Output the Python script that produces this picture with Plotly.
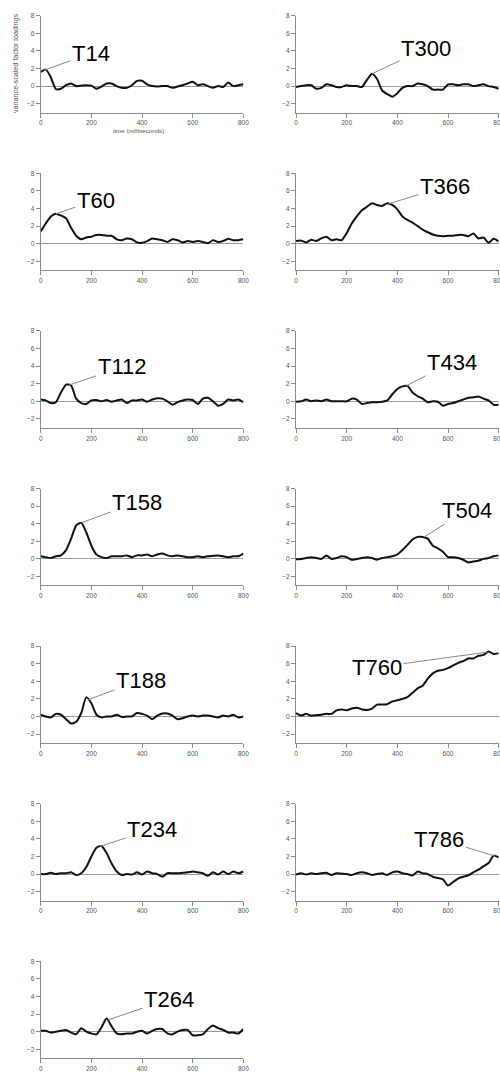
import numpy as np
import plotly.graph_objects as go

# ---------------- data ----------------
time_ms = list(range(0, 801, 20))

T14 = [1.6, 1.9, 1.0, -0.35, -0.3, 0.1, 0.3, 0.0, 0.05, 0.1, 0.05, -0.3, -0.05, 0.3, 0.3, 0.0,
       -0.2, -0.2, 0.1, 0.6, 0.6, 0.2, 0.0, -0.05, 0.0, 0.0, -0.2, -0.05, 0.1, 0.3, 0.5, 0.1,
       0.2, 0.0, -0.2, 0.0, -0.1, 0.4, 0.0, 0.1, 0.2]
T60 = [1.4, 2.3, 3.1, 3.4, 3.2, 2.9, 1.8, 0.9, 0.5, 0.7, 0.8, 1.0, 1.0, 0.9, 0.9, 0.5,
       0.4, 0.6, 0.5, 0.15, 0.1, 0.3, 0.6, 0.5, 0.4, 0.2, 0.5, 0.4, 0.15, 0.3, 0.2, 0.3,
       0.2, 0.05, 0.4, 0.2, 0.3, 0.55, 0.4, 0.4, 0.5]
T112 = [0.2, 0.1, -0.2, -0.1, 1.0, 1.9, 1.8, 0.3, -0.2, -0.3, 0.1, 0.15, 0.0, 0.15, -0.05, 0.1,
        0.2, -0.2, 0.1, 0.1, 0.2, -0.05, 0.2, 0.35, 0.3, 0.0, -0.4, -0.1, 0.1, 0.2, 0.15, -0.3,
        0.3, 0.4, 0.0, -0.5, -0.3, 0.2, 0.1, 0.2, -0.1]
T158 = [0.3, 0.2, 0.1, 0.3, 0.4, 1.0, 2.3, 3.8, 4.1, 3.0, 1.5, 0.5, 0.2, 0.1, 0.3, 0.3,
        0.3, 0.4, 0.2, 0.4, 0.4, 0.5, 0.3, 0.5, 0.6, 0.4, 0.3, 0.4, 0.3, 0.2, 0.2, 0.3,
        0.2, 0.3, 0.35, 0.4, 0.3, 0.2, 0.3, 0.3, 0.6]
T188 = [0.2, 0.0, -0.1, 0.3, 0.2, -0.3, -0.8, -0.6, 0.4, 2.2, 1.5, 0.2, -0.1, 0.0, 0.0, 0.2,
        -0.05, 0.0, 0.0, 0.4, 0.3, 0.1, -0.3, 0.1, 0.35, 0.35, 0.1, -0.3, -0.2, 0.0, 0.1, 0.0,
        0.1, 0.1, 0.0, -0.1, 0.1, 0.0, 0.2, -0.1, 0.0]
T234 = [0.0, 0.0, 0.15, 0.0, 0.1, 0.1, 0.2, -0.1, 0.1, 0.8, 2.0, 3.0, 3.2, 2.4, 1.2, 0.3,
        -0.1, 0.0, -0.05, 0.2, -0.05, 0.3, 0.1, 0.0, -0.3, 0.1, 0.1, 0.1, 0.15, 0.2, 0.3, 0.2,
        0.1, -0.2, 0.2, -0.05, 0.3, 0.0, 0.3, 0.1, 0.3]
T264 = [0.1, 0.1, -0.1, 0.0, 0.1, 0.2, -0.1, -0.3, 0.4, 0.0, -0.2, -0.3, 0.5, 1.5, 0.6, -0.2,
        -0.3, -0.2, -0.2, 0.0, 0.1, -0.2, 0.1, 0.3, 0.3, -0.2, -0.3, 0.0, 0.2, 0.2, -0.4, -0.4,
        -0.3, 0.3, 0.7, 0.4, 0.2, -0.1, -0.1, -0.2, 0.3]
T300 = [-0.1, 0.0, 0.1, 0.1, -0.3, -0.2, 0.2, 0.1, -0.1, -0.1, 0.1, 0.0, 0.0, -0.1, 0.7, 1.4,
        0.8, -0.5, -0.9, -1.2, -0.8, -0.2, 0.0, 0.0, 0.3, 0.2, 0.0, -0.4, -0.4, -0.4, 0.2, 0.2,
        0.1, 0.2, 0.2, 0.0, 0.1, 0.2, 0.0, -0.1, -0.3]
T366 = [0.3, 0.35, 0.15, 0.45, 0.3, 0.6, 0.8, 0.4, 0.5, 0.4, 1.2, 2.3, 3.1, 3.8, 4.2, 4.6,
        4.4, 4.3, 4.6, 4.4, 3.9, 3.1, 2.7, 2.4, 2.0, 1.6, 1.3, 1.05, 0.9, 0.85, 0.9, 0.9,
        1.0, 1.0, 0.85, 1.15, 0.6, 0.7, 0.1, 0.55, 0.25]
T434 = [-0.05, 0.0, 0.2, 0.0, 0.1, 0.0, 0.2, 0.0, 0.0, 0.0, 0.0, 0.3, 0.2, -0.3, -0.2, -0.1,
        -0.1, -0.05, 0.1, 0.8, 1.4, 1.7, 1.75, 1.0, 0.6, 0.3, -0.1, 0.0, -0.05, -0.5, -0.3, -0.2,
        0.0, 0.2, 0.4, 0.45, 0.55, 0.3, 0.1, -0.4, -0.4]
T504 = [-0.05, 0.0, 0.1, 0.2, 0.1, 0.0, 0.4, 0.0, 0.1, 0.3, 0.2, -0.1, 0.0, 0.1, 0.2, 0.1,
        -0.1, 0.1, 0.2, 0.3, 0.5, 1.0, 1.6, 2.2, 2.5, 2.5, 2.3, 1.5, 1.2, 0.8, 0.2, 0.2,
        0.1, -0.1, -0.4, -0.3, -0.2, 0.0, 0.1, 0.3, 0.4]
T760 = [0.4, 0.1, 0.3, 0.1, 0.15, 0.2, 0.3, 0.3, 0.7, 0.8, 0.7, 0.9, 1.0, 0.8, 0.75, 0.9,
        1.35, 1.35, 1.4, 1.7, 1.85, 2.0, 2.2, 2.7, 3.2, 3.5, 4.3, 4.9, 5.2, 5.3, 5.5, 5.8,
        6.1, 6.3, 6.6, 6.6, 6.9, 7.0, 7.4, 7.1, 7.2]
T786 = [-0.05, 0.1, -0.05, 0.1, 0.0, 0.1, 0.15, -0.1, 0.1, 0.05, 0.0, -0.1, 0.1, 0.2, 0.1, -0.1,
        0.0, 0.1, -0.1, 0.2, 0.3, 0.1, 0.0, -0.15, 0.3, 0.1, 0.0, -0.3, -0.45, -0.6, -1.3, -0.9,
        -0.5, -0.3, -0.15, 0.2, 0.5, 0.9, 1.25, 2.1, 1.9]

left_names = ["T14", "T60", "T112", "T158", "T188", "T234", "T264"]
right_names = ["T300", "T366", "T434", "T504", "T760", "T786"]
series = {"T14": T14, "T60": T60, "T112": T112, "T158": T158, "T188": T188,
          "T234": T234, "T264": T264, "T300": T300, "T366": T366, "T434": T434,
          "T504": T504, "T760": T760, "T786": T786}
# time (ms) each label points at
label_tip_ms = {"T14": 14, "T60": 60, "T112": 112, "T158": 158, "T188": 188, "T234": 234,
                "T264": 264, "T300": 300, "T366": 366, "T434": 434, "T504": 504,
                "T760": 756, "T786": 786}
# label text centre in data units (ms, loading)
label_text_x = {"T14": 199, "T60": 218, "T112": 321, "T158": 380, "T188": 396, "T234": 440,
                "T264": 507, "T300": 514, "T366": 589, "T434": 616, "T504": 676,
                "T760": 320, "T786": 565}
label_text_y = {"T14": 3.75, "T60": 4.95, "T112": 3.9, "T158": 6.45, "T188": 4.14, "T234": 5.1,
                "T264": 3.7, "T300": 4.3, "T366": 6.5, "T434": 4.45, "T504": 5.55,
                "T760": 5.6, "T786": 3.98}

x_ticks = [0, 200, 400, 600, 800]
y_ticks = [-2, 0, 2, 4, 6, 8]

# ---------------- layout geometry (pixels) ----------------
W, H = 500, 1077
col_x = [(40.7, 243.4), (296.0, 498.7)]
row_top0, row_step, panel_h = 15.7, 157.6, 96.8

fig = go.Figure()
font_family = "Liberation Sans, Arial, sans-serif"
axis_col = "#8a8a8a"
tick_font = dict(family=font_family, size=6.5, color="#555555")

panels = [(n, 0, r) for r, n in enumerate(left_names)] + [(n, 1, r) for r, n in enumerate(right_names)]
annotations = []
layout_axes = {}
for i, (name, col, row) in enumerate(panels):
    k = "" if i == 0 else str(i + 1)
    xa, ya = "x" + k, "y" + k
    top = row_top0 + row_step * row
    bot = top + panel_h
    x0, x1 = col_x[col]
    layout_axes["xaxis" + k] = dict(
        domain=[x0 / W, x1 / W], range=[0, 800], anchor=ya, tickvals=x_ticks,
        ticks="outside", ticklen=4, tickwidth=1, tickcolor=axis_col,
        showline=True, linecolor=axis_col, linewidth=1, showgrid=False, zeroline=False,
        tickfont=tick_font, automargin=False, fixedrange=True, ticklabeloverflow="allow")
    layout_axes["yaxis" + k] = dict(
        domain=[1 - bot / H, 1 - top / H], range=[-3, 8], anchor=xa, tickvals=y_ticks,
        ticks="outside", ticklen=4, tickwidth=1, tickcolor=axis_col,
        showline=True, linecolor=axis_col, linewidth=1, showgrid=False,
        zeroline=True, zerolinecolor="#9a9a9a", zerolinewidth=1,
        tickfont=tick_font, automargin=False, fixedrange=True)
    vals = series[name]
    fig.add_trace(go.Scatter(x=time_ms, y=vals, mode="lines", xaxis=xa, yaxis=ya,
                             line=dict(color="#111111", width=2, shape="spline", smoothing=0.6),
                             hoverinfo="skip", showlegend=False))
    tip_x = label_tip_ms[name]
    tip_y = float(np.interp(tip_x, time_ms, vals))
    annotations.append(dict(
        x=tip_x, y=tip_y, xref=xa, yref=ya, ax=label_text_x[name], ay=label_text_y[name],
        axref=xa, ayref=ya, text=name, showarrow=True, arrowhead=0, arrowwidth=1,
        arrowcolor="#888888", standoff=0, startstandoff=0,
        font=dict(family=font_family, size=22, color="#000000")))

annotations.append(dict(
    x=15 / W, y=1 - 64 / H, xref="paper", yref="paper", text="variance-scaled factor loadings",
    textangle=-90, showarrow=False, xanchor="center", yanchor="middle",
    font=dict(family=font_family, size=7.2, color="#555555")))
annotations.append(dict(
    x=138 / W, y=1 - 130 / H, xref="paper", yref="paper", text="time (milliseconds)",
    showarrow=False, xanchor="center", yanchor="middle",
    font=dict(family=font_family, size=6.2, color="#555555")))

fig.update_layout(
    width=W, height=H, margin=dict(l=0, r=0, t=0, b=0, pad=0),
    paper_bgcolor="white", plot_bgcolor="white", showlegend=False,
    annotations=annotations, **layout_axes)

fig.write_html("out.html")
